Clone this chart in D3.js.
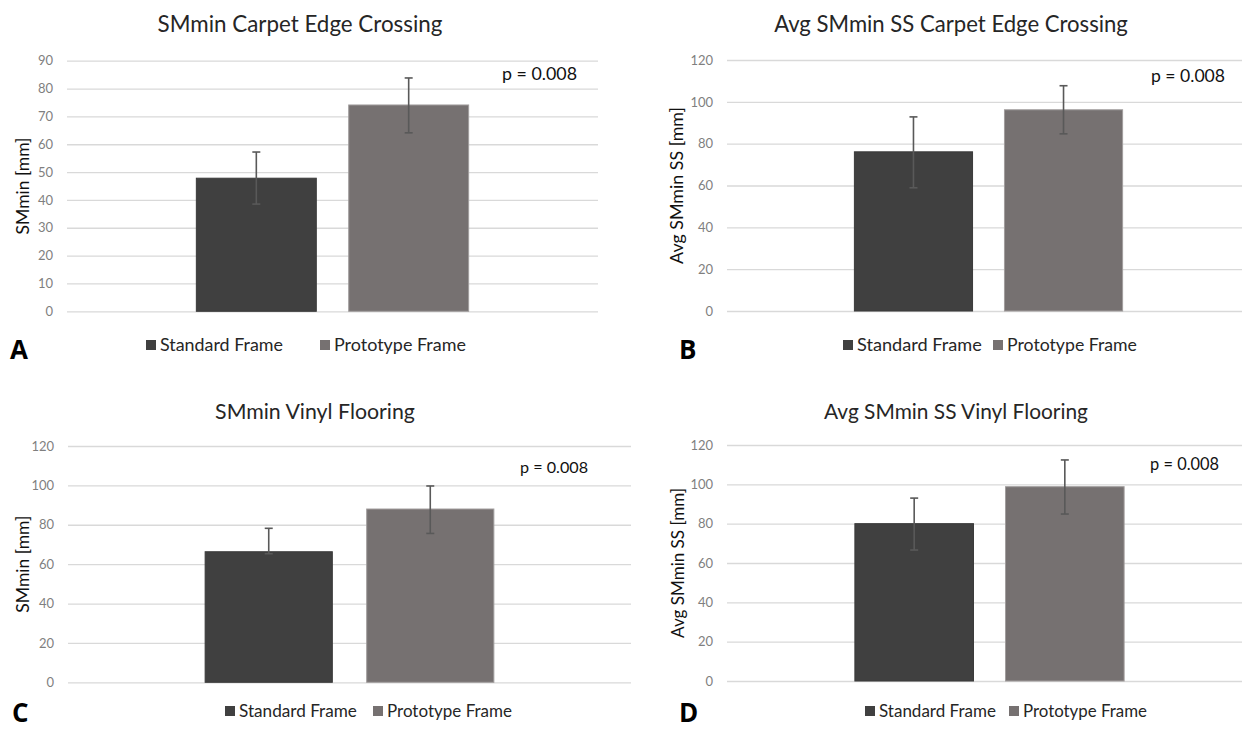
<!DOCTYPE html>
<html><head><meta charset="utf-8">
<script src="https://cdn.jsdelivr.net/npm/d3@7"></script>
<style>
body{margin:0;background:#fff}
svg{display:block}
text{font-family:Lato,"Open Sans",sans-serif}
</style>
</head><body>
<svg id="c" width="1242" height="730"></svg>
<script>
// ---------- data ----------
const series = ["Standard Frame", "Prototype Frame"];
const category = [""];
const titles = ["SMmin Carpet Edge Crossing", "Avg SMmin SS Carpet Edge Crossing", "SMmin Vinyl Flooring", "Avg SMmin SS Vinyl Flooring"];
const yTitles = ["SMmin [mm]", "Avg SMmin SS [mm]", "SMmin [mm]", "Avg SMmin SS [mm]"];
const panelLetters = ["A", "B", "C", "D"];
const pLabels = ["p = 0.008", "p = 0.008", "p = 0.008", "p = 0.008"];
const ticks90 = [0, 10, 20, 30, 40, 50, 60, 70, 80, 90];
const ticks120 = [0, 20, 40, 60, 80, 100, 120];

const smminCarpet = [47.8, 74.1];
const smminCarpetErrLow = [9.3, 10.0];
const smminCarpetErrHigh = [9.4, 9.7];

const avgCarpet = [76.1, 96.2];
const avgCarpetErrLow = [17.2, 11.5];
const avgCarpetErrHigh = [16.7, 11.5];

const smminVinyl = [66.3, 88.0];
const smminVinylErrLow = [1.0, 12.4];
const smminVinylErrHigh = [11.9, 11.7];

const avgVinyl = [80.0, 98.8];
const avgVinylErrLow = [13.4, 13.9];
const avgVinylErrHigh = [13.0, 13.6];

const colors = ["#404040", "#767171"];

// ---------- layout ----------
const panels = [
  {vals: smminCarpet, lo: smminCarpetErrLow, hi: smminCarpetErrHigh, ticks: ticks90, max: 90,
   L: 67, R: 598, T: 60.7, B: 311.3, titleX: 300, titleY: 32, titleW: 285,
   yTitleX: 22, yTitleW: 97, pX: 577, pY: 80, pW: 75,
   legX: [146, 320], legY: 351, legW: [123, 132], letterX: 10, letterY: 359},
  {vals: avgCarpet, lo: avgCarpetErrLow, hi: avgCarpetErrHigh, ticks: ticks120, max: 120,
   L: 727, R: 1250, T: 60, B: 311, titleX: 951, titleY: 32, titleW: 354,
   yTitleX: 676, yTitleW: 157, pX: 1225, pY: 82, pW: 74,
   legX: [843, 993], legY: 351, legW: [125, 130], letterX: 679, letterY: 359},
  {vals: smminVinyl, lo: smminVinylErrLow, hi: smminVinylErrHigh, ticks: ticks120, max: 120,
   L: 68, R: 631, T: 446, B: 682.3, titleX: 315, titleY: 419, titleW: 200,
   yTitleX: 22, yTitleW: 97, pX: 588, pY: 473, pW: 68,
   legX: [225, 373], legY: 717, legW: [118, 125], letterX: 12, letterY: 722},
  {vals: avgVinyl, lo: avgVinylErrLow, hi: avgVinylErrHigh, ticks: ticks120, max: 120,
   L: 727, R: 1252, T: 445, B: 681, titleX: 956, titleY: 419, titleW: 264,
   yTitleX: 677, yTitleW: 150, pX: 1219, pY: 470, pW: 69,
   legX: [865, 1009], legY: 717, legW: [117, 124], letterX: 679, letterY: 722}
];

const svg = d3.select("#c");

function fit(sel, w) {
  sel.style("font-size", "20px");
  const len = sel.node().getComputedTextLength();
  sel.style("font-size", (20 * w / len) + "px");
  return sel;
}

panels.forEach((p, i) => {
  const g = svg.append("g");
  const y = d3.scaleLinear().domain([0, p.max]).range([p.B, p.T]);
  const x0 = d3.scaleBand().domain(category).range([p.L, p.R]).paddingInner(0).paddingOuter(0.475);
  const x1 = d3.scaleBand().domain(series).range([0, x0.bandwidth()]).paddingInner(0.2127).paddingOuter(0);

  // grid + tick labels through axis
  const axis = d3.axisLeft(y).tickValues(p.ticks).tickSize(-(p.R - p.L)).tickPadding(14);
  const ag = g.append("g").attr("transform", `translate(${p.L},0)`).call(axis);
  ag.select(".domain").remove();
  ag.selectAll(".tick line").attr("stroke", "#d9d9d9").attr("stroke-width", 1.3);
  ag.selectAll(".tick text").attr("fill", "#7f7f7f").style("font-size", "13px").style("font-family", "Lato, 'Open Sans', sans-serif");

  // bars
  const data = series.map((s, j) => ({s, v: p.vals[j], lo: p.lo[j], hi: p.hi[j], c: colors[j]}));
  const bg = g.append("g").attr("transform", `translate(${x0("")},0)`);
  bg.selectAll("rect").data(data).join("rect")
    .attr("x", d => x1(d.s)).attr("width", x1.bandwidth())
    .attr("y", d => y(d.v)).attr("height", d => y(0) - y(d.v))
    .attr("fill", d => d.c)
    .attr("stroke", (d, j) => j === 0 ? "#3a3a3a" : "#a19d9d").attr("stroke-width", 1);

  // error bars
  const eb = bg.selectAll("g.err").data(data).join("g").attr("class", "err")
    .attr("transform", d => `translate(${x1(d.s) + x1.bandwidth() / 2},0)`);
  eb.append("line").attr("y1", d => y(d.v - d.lo)).attr("y2", d => y(d.v + d.hi))
    .attr("stroke", "#595959").attr("stroke-width", 1.6);
  eb.append("line").attr("x1", -4).attr("x2", 4).attr("y1", d => y(d.v + d.hi)).attr("y2", d => y(d.v + d.hi))
    .attr("stroke", "#595959").attr("stroke-width", 1.6);
  eb.append("line").attr("x1", -4).attr("x2", 4).attr("y1", d => y(d.v - d.lo)).attr("y2", d => y(d.v - d.lo))
    .attr("stroke", "#595959").attr("stroke-width", 1.6);

  // title
  fit(g.append("text").attr("x", p.titleX).attr("y", p.titleY).attr("text-anchor", "middle")
    .attr("fill", "#262626").text(titles[i]), p.titleW);

  // y axis title
  fit(g.append("text").attr("transform", `translate(${p.yTitleX},${(p.T + p.B) / 2}) rotate(-90)`)
    .attr("text-anchor", "middle").attr("dominant-baseline", "central").attr("fill", "#111").text(yTitles[i]), p.yTitleW);

  // p value
  fit(g.append("text").attr("x", p.pX).attr("y", p.pY).attr("text-anchor", "end").attr("fill", "#111").text(pLabels[i]), p.pW);

  // legend
  series.forEach((s, j) => {
    g.append("rect").attr("x", p.legX[j]).attr("y", p.legY - 11).attr("width", 10).attr("height", 10).attr("fill", colors[j]);
    fit(g.append("text").attr("x", p.legX[j] + 14).attr("y", p.legY).attr("fill", "#262626").text(s), p.legW[j]);
  });

  // panel letter
  g.append("text").attr("x", p.letterX).attr("y", p.letterY).attr("fill", "#000")
    .style("font-size", "26px").style("font-weight", "bold").style("font-family", "'Open Sans', Lato, sans-serif")
    .text(panelLetters[i]);
});
</script>
</body></html>
